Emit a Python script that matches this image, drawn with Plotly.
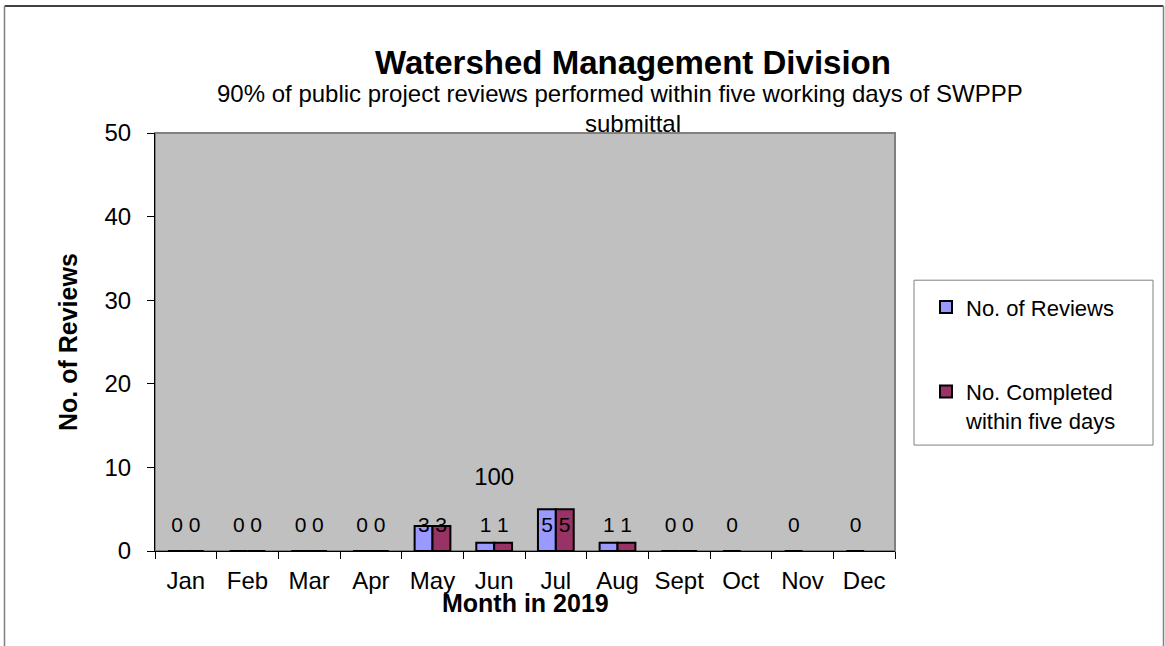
import plotly.graph_objects as go

# ---- data ----
months = ["Jan", "Feb", "Mar", "Apr", "May", "Jun", "Jul", "Aug", "Sept", "Oct", "Nov", "Dec"]
reviews = [0, 0, 0, 0, 3, 1, 5, 1, 0, 0, 0, 0]
completed = [0, 0, 0, 0, 3, 1, 5, 1, 0, None, None, None]
pct_labels = {"Jun": "100"}

title_text = "Watershed Management Division"
subtitle_line1 = "90% of public project reviews performed within five working days of SWPPP"
subtitle_line2 = "submittal"
x_title = "Month in 2019"
y_title = "No. of Reviews"

# ---- styles ----
FONT = "Arial, 'Liberation Sans', sans-serif"
BLUE = "#9999FF"
RED = "#993366"
PLOT_BG = "#C0C0C0"
LABEL_Y = 2.9       # data labels sit at a fixed height above the baseline
PCT_Y = 8.6
OFFSET = 0.14

# pixel helpers (plot area: x 155..895, y 132.7..551)
L, R, T, B = 155, 895, 132.7, 551
W, H = R - L, B - T
def px(x):
    return (x - L) / W
def py(y):
    return (B - y) / H

fig = go.Figure()
fig.add_trace(go.Bar(
    x=months, y=reviews, name="No. of Reviews",
    marker=dict(color=BLUE, line=dict(color="black", width=2)),
    legendgroup="a",
))
fig.add_trace(go.Bar(
    x=months, y=completed, name="No. Completed<br>within five days",
    marker=dict(color=RED, line=dict(color="black", width=2)),
    legendgroup="b",
))

# data labels via overlay numeric axis
idx = list(range(len(months)))
fig.add_trace(go.Scatter(
    x=[i - OFFSET for i, v in zip(idx, reviews) if v is not None],
    y=[LABEL_Y for v in reviews if v is not None],
    text=[str(v) for v in reviews if v is not None],
    mode="text", textfont=dict(size=21, color="black", family=FONT),
    xaxis="x2", showlegend=False, hoverinfo="skip",
))
fig.add_trace(go.Scatter(
    x=[i + OFFSET for i, v in zip(idx, completed) if v is not None],
    y=[LABEL_Y for v in completed if v is not None],
    text=[str(v) for v in completed if v is not None],
    mode="text", textfont=dict(size=21, color="black", family=FONT),
    xaxis="x2", showlegend=False, hoverinfo="skip",
))
fig.add_trace(go.Scatter(
    x=[months.index(m) for m in pct_labels],
    y=[PCT_Y for _ in pct_labels],
    text=list(pct_labels.values()),
    mode="text", textfont=dict(size=24, color="black", family=FONT),
    xaxis="x2", showlegend=False, hoverinfo="skip",
))

shapes = [
    # plot area box
    dict(type="rect", xref="paper", yref="paper", x0=0, x1=1, y0=0, y1=1,
         line=dict(color="#808080", width=2), fillcolor=PLOT_BG, layer="below"),
    # legend box
    dict(type="rect", xref="paper", yref="paper", x0=px(914), x1=px(1153), y0=py(445), y1=py(280),
         line=dict(color="#808080", width=1), fillcolor="white", layer="below"),
    # outer chart frame
    dict(type="line", xref="paper", yref="paper", x0=px(5), x1=px(1163), y0=py(5.5), y1=py(5.5),
         line=dict(color="black", width=1.5)),
    dict(type="line", xref="paper", yref="paper", x0=px(4.5), x1=px(4.5), y0=py(5), y1=py(646),
         line=dict(color="#808080", width=1.5)),
    dict(type="line", xref="paper", yref="paper", x0=px(1163.5), x1=px(1163.5), y0=py(5), y1=py(646),
         line=dict(color="#808080", width=1.5)),
]

annotations = [
    dict(text="<b>%s</b>" % title_text, xref="paper", yref="paper", x=px(633), y=py(62),
         xanchor="center", yanchor="middle", showarrow=False, font=dict(size=33, family=FONT, color="black")),
    dict(text=subtitle_line1, xref="paper", yref="paper", x=px(620), y=py(93),
         xanchor="center", yanchor="middle", showarrow=False, font=dict(size=24, family=FONT, color="black")),
    dict(text=subtitle_line2, xref="paper", yref="paper", x=px(632.5), y=py(123),
         xanchor="center", yanchor="middle", showarrow=False, font=dict(size=24, family=FONT, color="black")),
    dict(text="<b>%s</b>" % x_title, xref="paper", yref="paper", x=px(525), y=py(603),
         xanchor="center", yanchor="middle", showarrow=False, font=dict(size=25, family=FONT, color="black")),
    dict(text="<b>%s</b>" % y_title, xref="paper", yref="paper", x=px(68), y=0.5,
         xanchor="center", yanchor="middle", textangle=-90, showarrow=False,
         font=dict(size=25, family=FONT, color="black")),
]

fig.update_layout(
    width=1165, height=646,
    margin=dict(l=L, r=1165 - R, t=T, b=646 - B, autoexpand=False),
    paper_bgcolor="white",
    plot_bgcolor=PLOT_BG,
    barmode="group", bargap=0.42, bargroupgap=0,
    font=dict(family=FONT, color="black", size=24),
    showlegend=True,
    legend=dict(
        x=px(926), y=py(286), xanchor="left", yanchor="top",
        bgcolor="rgba(0,0,0,0)", borderwidth=0,
        font=dict(size=22, family=FONT, color="black"),
        traceorder="grouped", tracegroupgap=53, valign="top",
    ),
    xaxis=dict(
        type="category", range=[-0.5, 11.5], tickson="boundaries",
        ticks="outside", ticklen=7, tickcolor="black", tickwidth=1,
        showline=True, linecolor="black", linewidth=1,
        showgrid=False, zeroline=False, ticklabelstandoff=8,
        tickfont=dict(size=24, family=FONT, color="black"),
    ),
    xaxis2=dict(overlaying="x", range=[-0.5, 11.5], visible=False, anchor="y"),
    yaxis=dict(
        range=[0, 50], dtick=10, ticks="outside", ticklen=7, tickcolor="black",
        showline=True, linecolor="black", linewidth=1,
        showgrid=False, zeroline=False, ticklabelstandoff=11,
        tickfont=dict(size=24, family=FONT, color="black"),
    ),
    shapes=shapes,
    annotations=annotations,
)

fig.write_html("out.html", config={"displayModeBar": False},
               post_script="document.body.style.margin='0px';")
